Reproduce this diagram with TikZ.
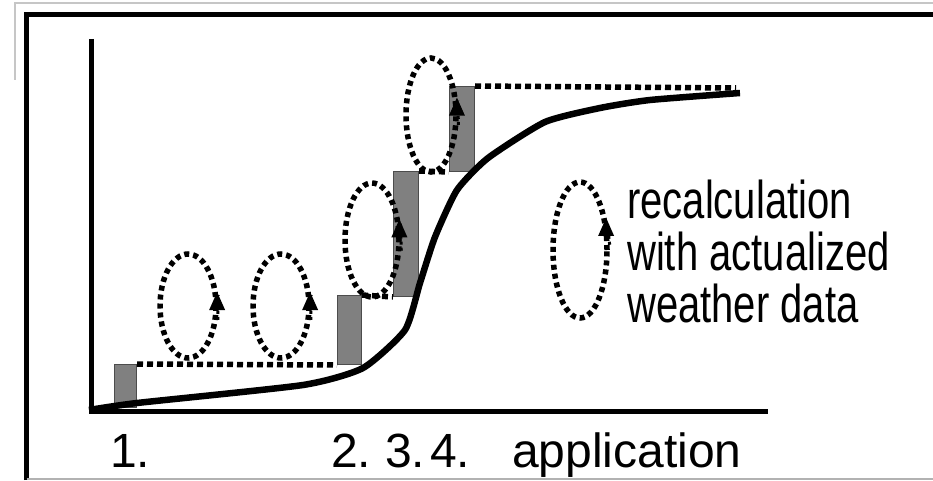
\documentclass[tikz,border=0pt]{standalone}
\usepackage{fontspec}
\setmainfont{Liberation Sans}
\usepackage{tikz}
\usetikzlibrary{arrows.meta, shapes.geometric, calc, positioning}
\tikzset{
  bar/.style={draw=gray!60!black, fill=gray, line width=1pt, inner sep=0pt, anchor=south west, minimum width=#1},
  bar/.default=24pt,
  dots/.style={line width=5.5pt, dash pattern=on 6pt off 4pt},
  loop/.style={ellipse, draw, line width=5.5pt, dash pattern=on 5pt off 4pt, inner sep=0pt},
  turn/.style={line width=3pt, dash pattern=on 3pt off 3pt},
  tiphead/.style={fill, line join=miter},
  legendtext/.style={anchor=north west, inner sep=0pt, align=left, font=\fontsize{40}{34}\selectfont},
  axislabel/.style={anchor=base west, inner sep=0pt, font=\fontsize{48}{48}\selectfont}
}
\newcommand{\stretched}[1]{\scalebox{1}[1.33]{#1}}

\begin{document}
\begin{tikzpicture}[x=1pt, y=1pt]
  \useasboundingbox (0,0) rectangle (933,480);
  % frames
  \draw [gray!45, line width=2pt] (15,400) -- (15,477) -- (933,477);
  \draw [line width=5pt] (26.5,0) -- (26.5,465.5) -- (945,465.5);
  \draw [gray!60, line width=2pt] (26.5,1) -- (933,1);
  % axes
  \draw [line width=5pt] (91,441) -- (91,69) -- (768,69);
  % bars
  \node [bar=22pt, minimum height=43pt] (b1) at (114,72) {};
  \node [bar, minimum height=69pt] (b2) at (337,115) {};
  \node [bar=25pt, minimum height=125pt] (b3) at (393,183) {};
  \node [bar=25pt, minimum height=85pt] (b4) at (449,308) {};
  \coordinate (end) at (736,392);
  \draw [dots] (b1.north east) -- (b2.south west);
  \draw [dots] (b2.north east) -- (b3.south west);
  \draw [dots] (b3.north east) -- (b4.south west);
  \draw [dots] (b4.north east) -- (end);
  % curve
  \draw [line width=6.5pt, line join=round, smooth, tension=0.35] plot coordinates {(89,70)(137,77)(303,95)(363,112)(405,150)(420,197)(435,243)(457,290)(488,322)(545,358)(600,372)(650,380)(740,387)};
  % recalculation loops
  \node [loop, minimum width=56pt, minimum height=104pt] (e1) at (188,174) {};
  \node [loop, minimum width=56pt, minimum height=104pt] (e2) at (281,174) {};
  \node [loop, minimum width=54pt, minimum height=114pt] (e3) at (372,240) {};
  \node [loop, minimum width=50pt, minimum height=114pt] (e4) at (431,365) {};
  \node [loop, minimum width=54pt, minimum height=136pt] (e5) at (580,230) {};
  \foreach \e/\a/\b in {e1/-25/20, e2/-25/20, e3/-20/32, e4/-20/28, e5/10/47} {
    \draw [turn] (\e.\a) -- (\e.\b);
    \path [tiphead] (\e.\b) ++(-1,3) -- ++(-8,-18) -- ++(16,0) -- cycle;
  }
  % legend
  \node [legendtext] (legend) at (627,300) {\stretched{\begin{tabular}{@{}l@{}}recalculation\\with actualized\\weather data\end{tabular}}};
  % applications
  \node [axislabel] (a1) at (110,13) {1.};
  \node [axislabel] (a2) at (331,13) {2.};
  \node [axislabel] (a3) at (385,13) {3.};
  \node [axislabel] (a4) at (430,13) {4.};
  \node [axislabel] (app) at (512,13) {application};
\end{tikzpicture}
\end{document}
